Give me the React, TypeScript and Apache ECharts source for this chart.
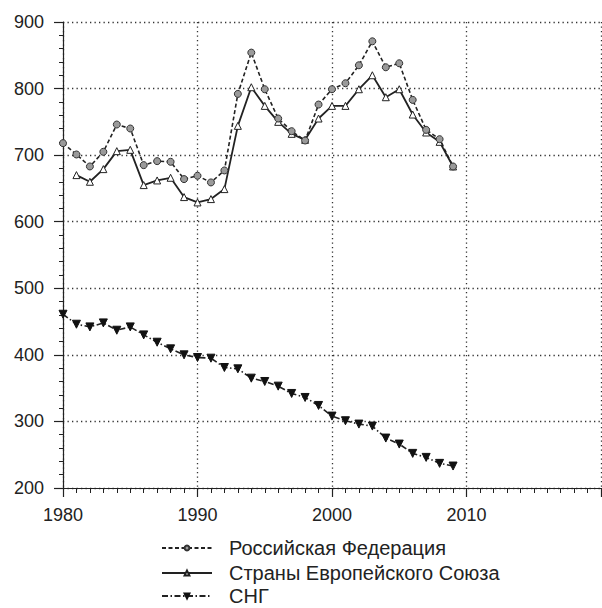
import React, { useEffect, useRef } from "react";
import * as echarts from "echarts";

const years = [1980, 1981, 1982, 1983, 1984, 1985, 1986, 1987, 1988, 1989, 1990, 1991, 1992, 1993, 1994, 1995, 1996, 1997, 1998, 1999, 2000, 2001, 2002, 2003, 2004, 2005, 2006, 2007, 2008, 2009];

const russia = [718, 701, 683, 705, 746, 740, 685, 691, 690, 664, 669, 659, 677, 792, 854, 799, 755, 736, 722, 776, 799, 808, 835, 871, 832, 838, 783, 738, 724, 683];

const eu = [null, 670, 660, 679, 706, 708, 655, 662, 666, 637, 629, 634, 649, 744, 802, 774, 750, 732, 723, 755, 774, 774, 799, 820, 787, 799, 761, 734, 720, 683];

const cis = [461, 446, 442, 448, 437, 442, 430, 419, 409, 400, 396, 395, 381, 379, 365, 360, 353, 342, 336, 324, 308, 301, 296, 293, 275, 266, 252, 246, 237, 233];

const seriesNames = ["Российская Федерация", "Страны Европейского Союза", "СНГ"];

const FONT = "'Liberation Sans', Arial, sans-serif";
const INK = "#222";

function pairs(vals: (number | null)[]) {
  const out: [number, number][] = [];
  vals.forEach((v, i) => {
    if (v !== null) out.push([years[i], v]);
  });
  return out;
}

export default function App() {
  const ref = useRef<HTMLDivElement>(null);
  useEffect(() => {
    if (!ref.current) return;
    const chart = echarts.init(ref.current, undefined, { renderer: "svg" });
    const dotted = { color: "#333", width: 1.3, type: [1.3, 3.2] as any };
    const legendTops = [538, 563, 586];
    const legends = seriesNames.map((name, i) => ({
      orient: "horizontal",
      left: 161,
      top: legendTops[i],
      padding: 0,
      itemWidth: 50,
      itemHeight: 6,
      data: [name],
      textStyle: { color: INK, fontSize: 20, lineHeight: 18, fontFamily: FONT, padding: [0, 0, 0, 12] },
    }));
    chart.setOption({
      animation: false,
      backgroundColor: "#fff",
      textStyle: { fontFamily: FONT },
      grid: { left: 63, top: 22, right: 1, bottom: 120, containLabel: false, outerBoundsMode: "none" },
      xAxis: {
        type: "value",
        min: 1980,
        max: 2020,
        interval: 10,
        axisLine: { show: true, onZero: false, lineStyle: { color: INK, width: 1.2 } },
        axisTick: { show: true, inside: false, length: 9, lineStyle: { color: INK, width: 1.2 } },
        minorTick: { show: true, splitNumber: 10, length: 5, lineStyle: { color: INK, width: 1 } },
        axisLabel: {
          color: INK,
          fontSize: 18,
          fontFamily: FONT,
          margin: 18,
          showMaxLabel: false,
          formatter: (v: number) => (v >= 2020 ? "" : String(v)),
        },
        splitLine: { show: true, lineStyle: dotted },
      },
      yAxis: {
        type: "value",
        min: 200,
        max: 900,
        interval: 100,
        axisLine: { show: true, onZero: false, lineStyle: { color: INK, width: 1.2 } },
        axisTick: { show: true, inside: false, length: 9, lineStyle: { color: INK, width: 1.2 } },
        minorTick: { show: true, splitNumber: 5, length: 4, lineStyle: { color: INK, width: 1 } },
        axisLabel: { color: INK, fontSize: 18, fontFamily: FONT, margin: 19 },
        splitLine: { show: true, lineStyle: dotted },
      },
      legend: legends,
      series: [
        {
          name: seriesNames[1],
          type: "line",
          z: 3,
          data: pairs(eu),
          symbol: "triangle",
          symbolSize: 7,
          lineStyle: { color: INK, width: 1.8, type: "solid" },
          itemStyle: { color: "#fff", borderColor: INK, borderWidth: 1 },
        },
        {
          name: seriesNames[2],
          type: "line",
          z: 3,
          data: pairs(cis),
          symbol: "triangle",
          symbolRotate: 180,
          symbolSize: 8,
          lineStyle: { color: INK, width: 1.6, type: [6, 2.5, 1.5, 2.5] },
          itemStyle: { color: "#111", borderColor: "#111", borderWidth: 1 },
        },
        {
          name: seriesNames[0],
          type: "line",
          z: 4,
          data: pairs(russia),
          symbol: "circle",
          symbolSize: 7,
          lineStyle: { color: INK, width: 1.6, type: [4, 2.5] },
          itemStyle: { color: "#9a9a9a", borderColor: "#333", borderWidth: 1 },
        },
      ],
    });
    return () => chart.dispose();
  }, []);
  return (
    <div
      ref={ref}
      style={{ position: "absolute", left: 0, top: 0, width: 602, height: 608 }}
    />
  );
}
